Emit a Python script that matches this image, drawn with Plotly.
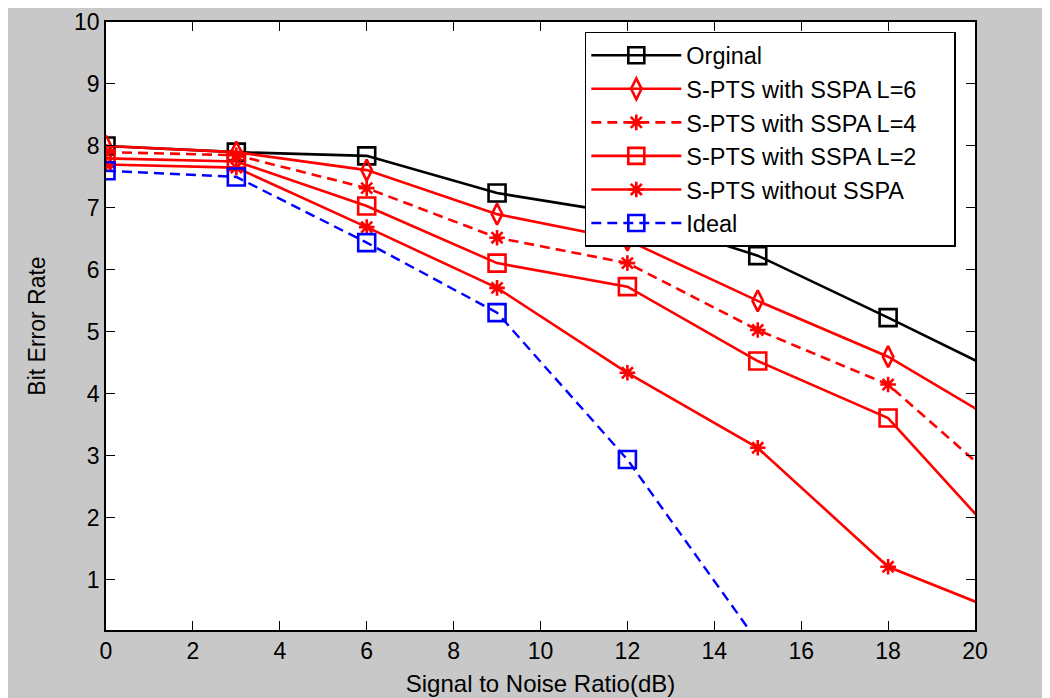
import plotly.graph_objects as go

snr = [0, 3, 6, 9, 12, 15, 18, 21]
original = [8.0, 7.9, 7.84, 7.24, 6.9, 6.23, 5.23, 4.2]
sspa_l6 = [8.0, 7.9, 7.61, 6.9, 6.48, 5.5, 4.6, 3.35]
sspa_l4 = [7.9, 7.85, 7.32, 6.52, 6.11, 5.03, 4.15, 2.3]
sspa_l2 = [7.8, 7.75, 7.03, 6.11, 5.73, 4.53, 3.61, 1.3]
no_sspa = [7.7, 7.65, 6.69, 5.71, 4.34, 3.13, 1.21, 0.37]
snr_ideal = [0, 3, 6, 9, 12, 15]
ideal = [7.6, 7.5, 6.44, 5.31, 2.94, 0.0]

x_ticks = list(range(0, 21, 2))
y_ticks = list(range(1, 11))

fig = go.Figure()

PAD = "\u00a0\u00a0\u00a0\u00a0\u00a0"

def add(x, y, name, color, dash, symbol, size, lw=2.6):
    fig.add_trace(go.Scatter(
        x=x, y=y, name=name + PAD, mode="lines+markers", legendgroup=name,
        line=dict(color=color, width=lw, dash=dash),
        marker=dict(symbol=symbol, size=size, color=color,
                    line=dict(color=color, width=2.6)),
    ))

add(snr, original, "Orginal", "black", "solid", "square-open", 17)
add(snr, sspa_l6, "S-PTS with SSPA L=6", "red", "solid", "diamond-tall-open", 15)
add(snr, sspa_l4, "S-PTS with SSPA L=4", "red", "10px,6px", "asterisk-open", 13)
add(snr, sspa_l2, "S-PTS with SSPA L=2", "red", "solid", "square-open", 17)
add(snr, no_sspa, "S-PTS without SSPA", "red", "solid", "asterisk-open", 13)
add(snr_ideal, ideal, "Ideal", "blue", "10px,6px", "square-open", 17, lw=2.4)

axis_common = dict(
    showgrid=False, zeroline=False, showline=True, linecolor="black",
    linewidth=1.5, mirror="ticks", ticks="inside", ticklen=9,
    tickcolor="black", tickwidth=1.3, automargin=False,
    tickfont=dict(family="Liberation Sans, Arial", size=23, color="black"),
)

fig.update_layout(
    width=1042, height=690,
    paper_bgcolor="#c8c8c8", plot_bgcolor="white",
    margin=dict(l=98, r=75, t=14, b=68),
    font=dict(family="Liberation Sans, Arial", color="black"),
    xaxis=dict(range=[0, 20], tickvals=x_ticks,
               title=dict(text="Signal to Noise Ratio(dB)", font=dict(size=24), standoff=12),
               **axis_common),
    yaxis=dict(range=[0.19, 10], tickvals=y_ticks,
               title=dict(text="Bit Error Rate", font=dict(size=23), standoff=22),
               **axis_common),
    legend=dict(x=0.551, y=0.9836, xanchor="left", yanchor="top",
                bgcolor="white", bordercolor="black", borderwidth=1.5,
                font=dict(size=23.5, color="black"), tracegroupgap=0,
                itemwidth=90),
    showlegend=True,
)

fig.write_html("out.html")
